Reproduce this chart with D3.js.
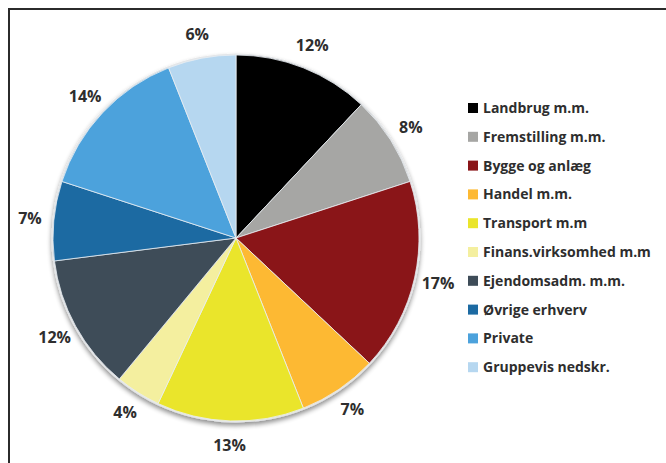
<!DOCTYPE html>
<html>
<head>
<meta charset="utf-8">
<script src="https://cdn.jsdelivr.net/npm/d3@7"></script>
<style>
  body { margin: 0; background: #fff; }
  svg { display: block; font-family: "Open Sans", Lato, sans-serif; }
</style>
</head>
<body>
<script>
// Sector names, shares (%) and colours
const categories = ["Landbrug m.m.", "Fremstilling m.m.", "Bygge og anlæg", "Handel m.m.", "Transport m.m",
    "Finans.virksomhed m.m", "Ejendomsadm. m.m.", "Øvrige erhverv", "Private", "Gruppevis nedskr."];
const shares = [12, 8, 17, 7, 13, 4, 12, 7, 14, 6];
const colors = ["#000000", "#a6a6a4", "#8a1518", "#fdb933", "#eae52b",
    "#f4ef9f", "#3e4c58", "#1c6aa2", "#4ca2dc", "#b6d7f0"];

const width = 666, height = 463;
const cx = 236, cy = 238, radius = 183;

const svg = d3.select("body").append("svg")
    .attr("width", width)
    .attr("height", height);

// frame (runs off the right and bottom edge like the crop)
svg.append("path")
    .attr("d", `M9,${height + 5} L9,9 L${width + 5},9`)
    .attr("fill", "none")
    .attr("stroke", "#2b2b2b")
    .attr("stroke-width", 2);

const data = categories.map((c, i) => ({ name: c, value: shares[i], color: colors[i] }));

const pie = d3.pie().sort(null).value(d => d.value);
const arcs = pie(data);

const arc = d3.arc().innerRadius(0).outerRadius(radius);
const labelArc = d3.arc().innerRadius(207).outerRadius(207);

const g = svg.append("g").attr("transform", `translate(${cx},${cy})`);

// soft shadow / rim behind the pie
const defs = svg.append("defs");
const shadow = defs.append("filter").attr("id", "shadow")
    .attr("x", "-20%").attr("y", "-20%").attr("width", "140%").attr("height", "140%");
shadow.append("feGaussianBlur").attr("in", "SourceAlpha").attr("stdDeviation", 2.5);
shadow.append("feOffset").attr("dx", 0).attr("dy", 3).attr("result", "blur");
shadow.append("feComponentTransfer").append("feFuncA").attr("type", "linear").attr("slope", 0.45);
const merge = shadow.append("feMerge");
merge.append("feMergeNode");
merge.append("feMergeNode").attr("in", "SourceGraphic");

g.append("circle")
    .attr("r", radius + 1.5)
    .attr("fill", "#e4e6e8")
    .attr("filter", "url(#shadow)");

g.selectAll("path.slice")
    .data(arcs)
    .join("path")
    .attr("class", "slice")
    .attr("d", arc)
    .attr("fill", d => d.data.color)
    .attr("stroke", "#e8eef2")
    .attr("stroke-width", 0.8);

// percentage labels
g.selectAll("text.pct")
    .data(arcs)
    .join("text")
    .attr("class", "pct")
    .attr("transform", d => `translate(${labelArc.centroid(d)})`)
    .attr("text-anchor", "middle")
    .attr("dy", "0.35em")
    .attr("font-size", "16px")
    .attr("font-weight", "bold")
    .attr("fill", "#2e2e2e")
    .text(d => d.data.value + "%");

// legend
const legend = svg.append("g").attr("transform", "translate(468,108)");
const rows = legend.selectAll("g")
    .data(data)
    .join("g")
    .attr("transform", (d, i) => `translate(0,${i * 28.8})`);

rows.append("rect")
    .attr("x", 0)
    .attr("y", -5)
    .attr("width", 10)
    .attr("height", 10)
    .attr("fill", d => d.color);

rows.append("text")
    .attr("x", 15)
    .attr("dy", "0.35em")
    .attr("font-size", "14px")
    .attr("font-weight", "bold")
    .attr("fill", "#2e2e2e")
    .text(d => d.name);
</script>
</body>
</html>
